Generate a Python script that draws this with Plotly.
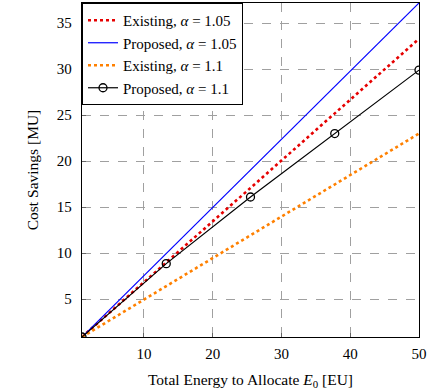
import plotly.graph_objects as go

energy = [1, 13.25, 25.5, 37.75, 50]
existing_105 = [0.87, 8.98, 17.1, 25.2, 33.3]
proposed_105 = [0.87, 9.95, 19.0, 28.1, 37.2]
existing_11 = [0.87, 6.4, 11.9, 17.45, 23.0]
proposed_11 = [0.87, 8.85, 16.1, 23.0, 29.9]

x_ticks = [10, 20, 30, 40, 50]
y_ticks = [5, 10, 15, 20, 25, 30, 35]

FONT = "Liberation Serif"

fig = go.Figure()
fig.add_trace(go.Scatter(x=energy, y=existing_105, mode="lines",
                         name="Existing, <i>α</i> = 1.05",
                         line=dict(color="rgb(230,0,0)", width=2.6, dash="dot")))
fig.add_trace(go.Scatter(x=energy, y=proposed_105, mode="lines",
                         name="Proposed, <i>α</i> = 1.05",
                         line=dict(color="rgb(0,0,255)", width=1.2)))
fig.add_trace(go.Scatter(x=energy, y=existing_11, mode="lines",
                         name="Existing, <i>α</i> = 1.1",
                         line=dict(color="rgb(255,128,0)", width=2.6, dash="dot")))
fig.add_trace(go.Scatter(x=energy, y=proposed_11, mode="lines+markers",
                         name="Proposed, <i>α</i> = 1.1",
                         line=dict(color="black", width=1.2),
                         marker=dict(symbol="circle-open", size=8, color="black",
                                     line=dict(width=1.3, color="black"))))

axis_common = dict(
    showline=True, linecolor="black", linewidth=1.3, mirror=True,
    showgrid=True, gridcolor="rgb(160,160,160)", griddash="dash", gridwidth=1,
    ticks="inside", ticklen=4, tickcolor="rgb(100,100,100)",
    zeroline=False, tickfont=dict(family=FONT, size=15, color="black"),
)

fig.update_layout(
    width=429, height=392,
    margin=dict(l=82, r=10, t=3, b=55),
    paper_bgcolor="white", plot_bgcolor="white",
    font=dict(family=FONT, size=15, color="black"),
    showlegend=True,
    legend=dict(x=0, y=1, xanchor="left", yanchor="top",
                bgcolor="white", bordercolor="black", borderwidth=1,
                font=dict(family=FONT, size=15, color="black"),
                tracegroupgap=0, itemwidth=30),
    xaxis=dict(range=[1, 50], tickvals=x_ticks, ticklabelstandoff=3,
               title=dict(text="Total Energy to Allocate <i>E</i><sub>0</sub> [EU]",
                          font=dict(family=FONT, size=15.5), standoff=12),
               **axis_common),
    yaxis=dict(range=[0.87, 37.2], tickvals=y_ticks, ticklabelstandoff=6,
               title=dict(text="Cost Savings [MU]",
                          font=dict(family=FONT, size=15.5), standoff=14),
               **axis_common),
)

fig.write_html("out.html")
